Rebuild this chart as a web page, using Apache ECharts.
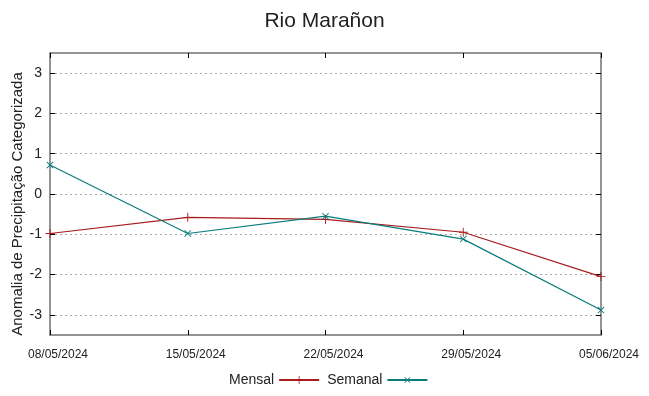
<!DOCTYPE html>
<html>
<head>
<meta charset="utf-8">
<script src="https://cdn.jsdelivr.net/npm/echarts@6/dist/echarts.min.js"></script>
<style>
  html, body { margin: 0; padding: 0; background: #fff; }
  #chart { width: 649px; height: 396px; }
</style>
</head>
<body>
<div id="chart"></div>
<script>
const dates = ["08/05/2024", "15/05/2024", "22/05/2024", "29/05/2024", "05/06/2024"];
const mensal = [-0.98, -0.58, -0.63, -0.95, -2.05];
const semanal = [0.72, -0.98, -0.55, -1.12, -2.88];
const yTicks = [-3, -2, -1, 0, 1, 2, 3];
const yName = "Anomalia de Precipitação Categorizada";

// gnuplot style point shapes
const plusPath = "path://M0,4.5H10V5.5H0Z M4.5,0H5.5V10H4.5Z";

const chart = echarts.init(document.getElementById("chart"));

const tickStyle = { show: true, inside: true, length: 5, lineStyle: { color: "#000", width: 1 } };
const frameLine = { show: true, onZero: false, lineStyle: { color: "#707070", width: 1.5 } };

const yBase = {
  type: "value",
  min: -3.5,
  max: 3.5,
  axisLine: frameLine,
  axisTick: Object.assign({ customValues: yTicks }, tickStyle)
};

chart.setOption({
  animation: false,
  textStyle: { fontFamily: "Liberation Sans" },
  title: {
    text: "Rio Marañon",
    left: "center",
    top: 6,
    textStyle: { fontSize: 21, fontWeight: "normal", color: "#222" }
  },
  // y axis title, placed like gnuplot's ylabel
  graphic: [{
    type: "text",
    x: 18,
    y: 204,
    rotation: Math.PI / 2,
    style: {
      text: yName,
      fontSize: 15,
      fontFamily: "Liberation Sans",
      fill: "#222",
      align: "center",
      verticalAlign: "middle"
    }
  }],
  grid: { left: 50, right: 48, top: 53, bottom: 61, outerBoundsMode: "none" },
  legend: {
    bottom: 4,
    left: 224,
    align: "right",
    itemWidth: 40,
    itemHeight: 10,
    itemGap: 7,
    textStyle: { fontSize: 14, color: "#222" },
    data: ["Mensal", "Semanal"]
  },
  xAxis: [
    {
      type: "category",
      data: dates,
      boundaryGap: false,
      position: "bottom",
      axisLine: frameLine,
      axisTick: tickStyle,
      axisLabel: { fontSize: 12, color: "#222", margin: 14, padding: [0, 0, 0, 16], showMinLabel: true, showMaxLabel: true },
      splitLine: { show: false }
    },
    {
      type: "category",
      data: dates,
      boundaryGap: false,
      position: "top",
      axisLine: frameLine,
      axisTick: tickStyle,
      axisLabel: { show: false },
      splitLine: { show: false }
    }
  ],
  yAxis: [
    Object.assign({}, yBase, {
      position: "left",
      axisLabel: { customValues: yTicks, fontSize: 14, color: "#222", margin: 8 },
      splitLine: { show: true, lineStyle: { color: "#aaa", width: 1, type: [2, 3] } }
    }),
    Object.assign({}, yBase, {
      position: "right",
      axisLabel: { show: false },
      splitLine: { show: false }
    })
  ],
  series: [
    {
      name: "Mensal",
      type: "line",
      data: mensal,
      symbol: plusPath,
      symbolSize: 9,
      showAllSymbol: true,
      color: "#a81c1c",
      lineStyle: { width: 1.2, color: "#a81c1c" },
      itemStyle: { color: "#a81c1c" }
    },
    {
      name: "Semanal",
      type: "line",
      data: semanal,
      symbol: plusPath,
      symbolRotate: 45,
      symbolSize: 9,
      showAllSymbol: true,
      color: "#0b7b7b",
      lineStyle: { width: 1.2, color: "#0b7b7b" },
      itemStyle: { color: "#0b7b7b" }
    }
  ]
});
</script>
</body>
</html>
